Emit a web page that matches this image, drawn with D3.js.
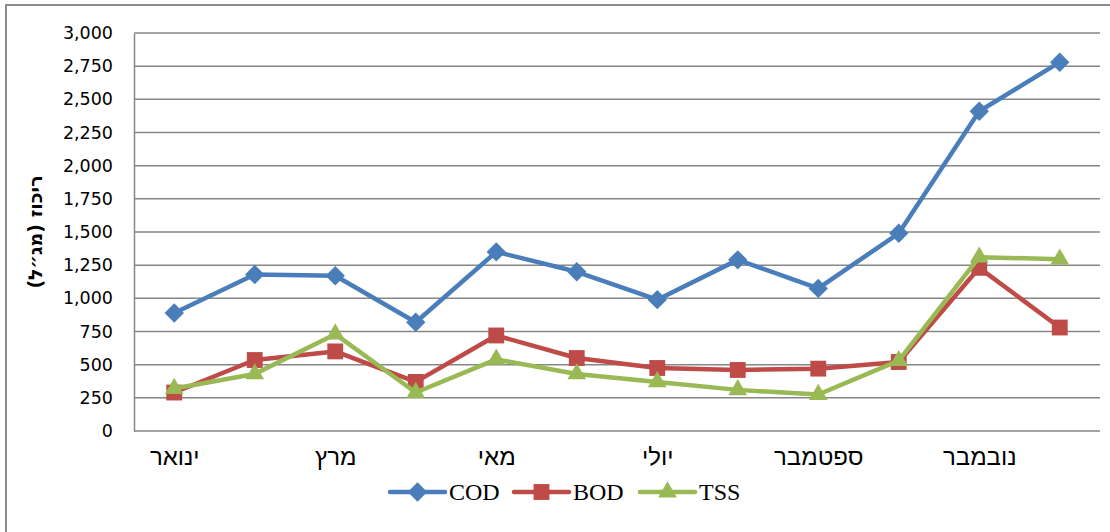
<!DOCTYPE html>
<html>
<head>
<meta charset="utf-8">
<script src="https://cdn.jsdelivr.net/npm/d3@7"></script>
<style>
  body { margin: 0; background: #fff; }
  svg { display: block; }
</style>
</head>
<body>
<svg id="chart" width="1110" height="532"></svg>
<script>
// months, only every other one is labelled on the axis
const months = ["ינואר", "פברואר", "מרץ", "אפריל", "מאי", "יוני", "יולי", "אוגוסט", "ספטמבר", "אוקטובר", "נובמבר", "דצמבר"];
const shownMonths = ["ינואר", "מרץ", "מאי", "יולי", "ספטמבר", "נובמבר"];
const codValues = [890, 1180, 1170, 820, 1350, 1200, 990, 1290, 1075, 1490, 2410, 2780];
const bodValues = [290, 535, 600, 370, 720, 550, 475, 460, 470, 520, 1230, 780];
const tssValues = [320, 430, 730, 290, 540, 430, 370, 310, 275, 530, 1310, 1295];
const yTicks = [0, 250, 500, 750, 1000, 1250, 1500, 1750, 2000, 2250, 2500, 2750, 3000];

const series = [
  { name: "COD", values: codValues, color: "#4a7ebb", marker: d3.symbolDiamond2, size: 240 },
  { name: "BOD", values: bodValues, color: "#be4b48", marker: d3.symbolSquare2, size: 320 },
  { name: "TSS", values: tssValues, color: "#98b954", marker: d3.symbolTriangle2, size: 250 }
];

const svg = d3.select("#chart");
const margin = { left: 134, right: 10, top: 33, bottom: 101 };
const width = 1110, height = 532;

// outer frame
svg.append("rect")
  .attr("x", 6).attr("y", 5)
  .attr("width", 1110).attr("height", 540)
  .attr("fill", "none")
  .attr("stroke", "#8c8c8c")
  .attr("stroke-width", 2);

const x = d3.scalePoint()
  .domain(months)
  .range([margin.left, width - margin.right])
  .padding(0.5);

const y = d3.scaleLinear()
  .domain([0, 3000])
  .range([height - margin.bottom, margin.top]);

// horizontal gridlines
svg.append("g")
  .selectAll("line")
  .data(yTicks)
  .join("line")
  .attr("x1", margin.left)
  .attr("x2", width - margin.right)
  .attr("y1", d => y(d))
  .attr("y2", d => y(d))
  .attr("stroke", "#868686")
  .attr("stroke-width", 1.5);

// y axis
const yAxis = svg.append("g")
  .attr("transform", `translate(${margin.left},0)`)
  .call(d3.axisLeft(y).tickValues(yTicks).tickSize(0).tickPadding(21).tickFormat(d3.format(",")));
yAxis.select(".domain").attr("stroke", "#868686").attr("stroke-width", 1.5);
yAxis.selectAll("text")
  .style("font-family", "DejaVu Sans, sans-serif")
  .style("font-size", "17.5px")
  .attr("fill", "#000");

// x axis
const xAxis = svg.append("g")
  .attr("transform", `translate(0,${y(0)})`)
  .call(d3.axisBottom(x).tickValues(shownMonths).tickSize(0).tickPadding(17));
xAxis.select(".domain").remove();
xAxis.selectAll("text")
  .style("font-family", "Liberation Sans, Arial, sans-serif")
  .style("font-size", "24px")
  .attr("fill", "#000");

// y title
svg.append("text")
  .attr("transform", `translate(42,${(y(0) + y(3000)) / 2}) rotate(-90)`)
  .attr("text-anchor", "middle")
  .style("font-family", "DejaVu Sans, sans-serif")
  .style("font-size", "19px")
  .style("font-weight", "bold")
  .text("ריכוז (מג״ל)");

const line = d3.line()
  .x((d, i) => x(months[i]))
  .y(d => y(d));

series.forEach(s => {
  const g = svg.append("g");
  g.append("path")
    .datum(s.values)
    .attr("d", line)
    .attr("fill", "none")
    .attr("stroke", s.color)
    .attr("stroke-width", 4.5)
    .attr("stroke-linejoin", "round");
  g.selectAll("path.mark")
    .data(s.values)
    .join("path")
    .attr("class", "mark")
    .attr("transform", (d, i) => `translate(${x(months[i])},${y(d)})`)
    .attr("d", d3.symbol().type(s.marker).size(s.size))
    .attr("fill", s.color);
});

// legend
const legendX = [390, 514, 640];
const legendY = 492;
series.forEach((s, i) => {
  const g = svg.append("g").attr("transform", `translate(${legendX[i]},${legendY})`);
  g.append("line")
    .attr("x1", 0).attr("x2", 55)
    .attr("stroke", s.color)
    .attr("stroke-width", 4.5)
    .attr("stroke-linecap", "round");
  g.append("path")
    .attr("transform", "translate(27.5,0)")
    .attr("d", d3.symbol().type(s.marker).size(s.size))
    .attr("fill", s.color);
  g.append("text")
    .attr("x", 59)
    .attr("dy", "0.35em")
    .style("font-family", "Liberation Serif, Times New Roman, serif")
    .style("font-size", "24px")
    .text(s.name);
});
</script>
</body>
</html>
